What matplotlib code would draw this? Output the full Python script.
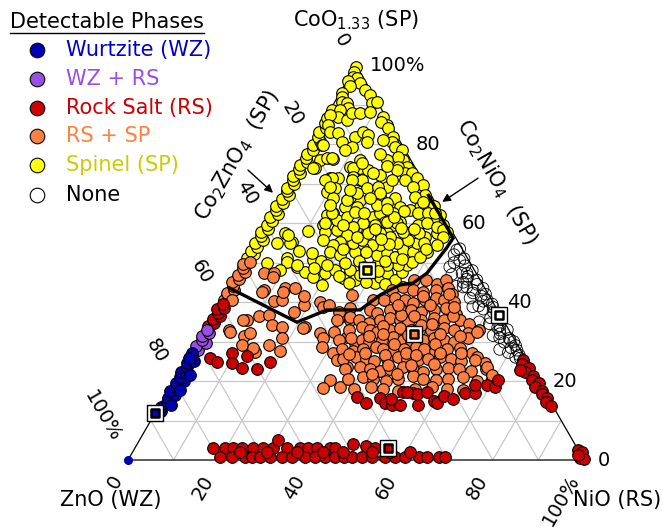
import numpy as np
import matplotlib
matplotlib.use('Agg')
import matplotlib.pyplot as plt
from matplotlib.lines import Line2D

# compositions as (NiO %, CoO %); ZnO = 100 - NiO - CoO
wurtzite = [(1.0, 12.5), (0.5, 13.5), (1.5, 14.5), (0.8, 15.8), (2.0, 16.5), (0.5, 17.5),
            (1.6, 18.3), (0.8, 19.5), (2.2, 20.0), (1.0, 21.0), (0.5, 22.3), (1.8, 22.0),
            (1.2, 23.5), (0.6, 24.6), (2.0, 25.0), (1.0, 26.0), (0.5, 27.0), (2.6, 17.8),
            (2.8, 21.5), (2.4, 14.0), (0.4, 25.8)]
wz_rs = [(1.5, 27.8), (0.6, 28.8), (2.2, 29.6), (1.0, 30.5), (0.4, 31.5), (1.6, 32.2), (0.8, 33.0)]

rock_salt = [
    # left edge
    (0.5, 34.0), (1.5, 34.8), (0.8, 35.8), (2.0, 36.4), (1.0, 37.3), (0.4, 38.2), (1.8, 38.6), (1.0, 39.5),
    # low-Ni interior
    (5.1, 25.8), (7.1, 24.8), (9.3, 27.1), (10.5, 24.6), (13.4, 23.3), (12.9, 26.3), (16.8, 23.0), (18.7, 24.8),
    # under the RS+SP cloud
    (42.2, 16.0), (47.4, 15.7), (49.2, 14.4), (50.9, 13.9), (52.6, 13.9), (51.8, 17.2), (54.0, 17.0),
    (55.0, 16.7), (57.0, 17.2), (59.7, 14.9), (60.6, 14.4), (61.2, 16.2), (65.4, 17.0), (67.6, 17.0),
    (66.6, 19.0), (69.2, 19.0), (71.3, 18.5), (71.0, 20.3), (49.9, 15.4), (52.5, 17.2), (45.0, 14.5),
    (56.5, 14.0), (63.5, 15.5),
    # right edge
    (73.9, 25.3), (74.3, 24.2), (76.3, 23.4), (75.9, 22.2), (78.2, 21.2), (78.6, 20.2), (80.4, 19.4),
    (80.0, 18.4), (81.9, 17.6), (82.4, 16.6), (84.0, 15.8), (84.3, 14.8), (85.9, 13.8), (74.6, 22.8),
    # NiO corner
    (97.4, 2.5), (98.6, 2.0), (98.9, 0.5), (99.8, 0.2), (98.0, 1.2),
    # low-Co line
    (17.1, 3.0), (19.8, 3.0), (21.5, 3.0), (23.5, 3.0), (26.0, 3.0), (28.0, 3.0), (30.3, 3.0), (30.4, 5.0),
    (33.4, 3.0), (36.2, 3.0), (38.0, 3.0), (40.0, 3.0), (42.8, 3.0), (43.9, 3.0), (47.3, 4.0), (50.5, 3.5),
    (52.7, 3.0), (19.7, 0.8), (22.4, 0.8), (25.2, 0.8), (26.8, 0.8), (28.5, 0.8), (30.7, 0.8), (33.3, 0.8),
    (35.5, 0.8), (38.4, 0.8), (40.6, 0.8), (42.8, 0.8), (45.0, 0.8), (46.9, 0.8), (48.7, 0.8), (50.9, 0.8),
    (53.1, 0.8), (55.9, 0.8), (58.1, 0.8), (60.3, 0.8), (63.4, 0.8), (65.1, 0.8), (67.8, 0.8), (69.1, 0.8),
    (23.6, 2.0), (29.5, 2.0), (36.1, 2.0), (41.8, 2.0), (46.1, 2.0), (52.5, 2.0), (56.5, 2.0), (60.8, 2.0)]

rs_sp = [
    # left edge
    (0.8, 40.4), (1.5, 41.4), (0.5, 42.3), (1.8, 43.0), (1.0, 44.0), (0.4, 45.0), (1.5, 45.8), (0.8, 46.8),
    (2.0, 47.5), (1.0, 48.5), (0.5, 49.6), (1.6, 50.2),
    # low-Ni interior
    (2.6, 40.5), (8.3, 35.4), (10.5, 36.4), (12.6, 36.7), (14.5, 34.1), (16.9, 33.8), (5.8, 32.8), (9.7, 31.3),
    (10.7, 32.1), (10.4, 29.0), (14.1, 27.4), (16.4, 29.0), (19.5, 27.7), (18.4, 30.8), (8.3, 43.1),
    (11.9, 40.3), (13.5, 40.5), (12.6, 43.6), (14.9, 43.6), (17.7, 37.4), (19.1, 39.2), (17.9, 41.5),
    (22.0, 33.8), (6.1, 47.4), (8.3, 47.4), (22.0, 40.0), (23.4, 38.7), (21.7, 33.4), (8.6, 46.3),
    (8.1, 42.5), (12.7, 42.5), (7.5, 35.4), (6.2, 32.4), (13.2, 28.4), (28.2, 41.8), (24.5, 39.3),
    (26.0, 32.2), (27.4, 30.9), (28.2, 28.6), (31.5, 27.1), (33.1, 25.3), (36.2, 23.5), (34.2, 20.3),
    (37.3, 18.5), (33.7, 18.2), (28.4, 36.2), (31.0, 35.4), (32.4, 31.1), (35.0, 29.6),
    # main cloud
    (40.0, 45.5), (42.5, 45.5), (45.5, 44.5), (47.0, 45.5),
    (36.5, 43.0), (38.5, 43.8), (41.0, 43.0), (43.5, 42.5), (46.0, 43.0), (48.5, 43.5), (50.0, 42.0),
    (33.5, 40.5), (35.8, 40.5), (38.0, 41.0), (40.5, 40.5), (42.5, 39.8), (44.8, 40.5), (47.0, 41.0),
    (49.0, 40.5), (51.5, 40.0),
    (27.5, 37.5), (29.5, 38.5), (34.0, 38.0), (36.0, 37.2), (38.5, 38.0), (40.5, 38.5), (43.0, 38.0),
    (45.5, 37.5), (48.0, 38.0), (50.5, 38.5), (53.5, 37.0),
    (28.0, 35.5), (30.5, 36.2), (33.0, 35.5), (35.5, 34.8), (37.5, 35.5), (39.5, 36.0), (42.0, 35.5),
    (44.0, 35.0), (46.5, 35.5), (49.0, 36.0), (51.5, 35.5), (55.0, 35.5), (57.5, 34.5),
    (29.0, 32.5), (32.0, 33.0), (34.5, 33.8), (36.5, 33.0), (38.5, 32.4), (41.0, 33.0), (43.0, 33.5),
    (45.5, 33.0), (47.5, 32.6), (50.0, 33.0), (52.5, 33.5), (55.0, 33.0), (58.5, 32.2), (60.5, 33.0),
    (31.0, 30.5), (33.5, 31.0), (36.0, 30.5), (38.0, 29.8), (40.5, 30.5), (42.5, 31.2), (45.0, 30.5),
    (47.0, 30.0), (49.5, 30.5), (51.5, 31.0), (54.0, 30.5), (56.5, 29.8), (59.0, 31.0),
    (33.0, 28.0), (35.5, 27.5), (37.5, 28.0), (40.0, 28.6), (42.0, 28.0), (44.5, 27.4), (46.5, 28.0),
    (49.0, 28.5), (51.0, 28.0), (53.5, 27.6), (56.0, 28.0), (58.5, 28.4), (62.0, 27.0),
    (34.5, 25.5), (37.0, 26.2), (39.5, 25.5), (41.5, 25.0), (44.0, 25.5), (46.0, 26.2), (48.5, 25.5),
    (51.0, 25.2), (53.0, 25.5), (55.5, 26.0), (58.0, 25.5), (60.5, 25.0), (63.5, 26.0), (66.0, 24.5),
    (36.0, 23.0), (39.0, 23.6), (41.5, 23.0), (44.0, 22.5), (46.0, 23.0), (48.5, 23.5), (51.0, 23.0),
    (53.5, 22.4), (56.0, 23.0), (58.5, 23.2), (61.0, 23.0), (64.0, 22.5), (67.0, 23.0),
    (38.0, 20.5), (41.0, 21.0), (43.5, 20.5), (46.5, 20.0), (49.0, 20.5), (52.0, 21.2), (54.5, 20.5),
    (57.5, 20.2), (60.0, 20.5), (63.0, 21.0), (66.5, 20.0), (69.5, 20.5),
    (40.5, 18.0), (44.0, 18.6), (47.0, 18.0), (50.5, 17.6), (54.0, 18.0), (57.5, 18.4), (61.0, 18.0),
    (64.5, 17.8), (60.3, 32.4), (63.4, 25.3), (67.0, 23.5), (69.0, 21.5),
    (39.0, 34.0), (41.5, 36.8), (44.5, 36.5), (47.0, 34.3), (49.5, 34.5), (52.5, 32.0), (53.0, 36.5),
    (45.5, 31.7), (43.5, 29.5), (40.0, 31.8), (37.0, 31.5), (35.0, 26.8), (38.5, 27.0), (43.0, 26.5),
    (47.5, 27.0), (50.0, 26.5), (52.5, 29.5), (55.0, 27.0), (57.0, 31.5), (48.0, 21.8), (45.0, 24.0),
    (42.5, 21.8), (50.0, 24.0), (55.0, 24.2), (59.5, 27.0), (39.5, 39.3), (44.0, 41.5), (46.5, 39.3),
    (49.5, 42.0), (52.0, 38.8)]

spinel = [
    # left edge
    (0.6, 51.2), (1.5, 52.1), (0.5, 53.0), (1.2, 54.0), (0.4, 55.0), (1.6, 55.8), (0.8, 56.8), (0.3, 57.8),
    (1.4, 58.6), (0.6, 59.6), (1.2, 60.6), (0.4, 61.6), (1.6, 62.4), (0.8, 63.4), (0.3, 64.4), (1.3, 65.2),
    (0.6, 66.2), (1.8, 67.0), (0.8, 68.0), (0.4, 69.0), (1.4, 69.8), (0.7, 70.8), (0.3, 71.8), (1.5, 72.6),
    (0.8, 73.6), (0.4, 74.6), (1.6, 75.4), (0.8, 76.4), (0.4, 77.6), (1.2, 78.6), (0.6, 79.8), (1.8, 80.8),
    (0.8, 81.8), (0.4, 83.0), (1.4, 84.0), (0.6, 85.3), (0.3, 86.5), (1.2, 87.6), (0.5, 88.6),
    # CoO corner and upper region
    (0.3, 99.5), (0.5, 98.2), (0.8, 97.0), (1.8, 96.7), (0.3, 96.0), (3.2, 95.4), (1.2, 94.8), (5.2, 93.7),
    (6.9, 92.4), (8.3, 90.4), (9.2, 90.6), (0.5, 93.0), (1.0, 91.9), (1.7, 90.6), (2.9, 90.4), (3.7, 89.1),
    (2.2, 88.6), (2.7, 86.8), (5.0, 86.1), (5.2, 87.8), (7.0, 87.8), (0.6, 87.3), (1.5, 84.8), (2.8, 83.0),
    (4.7, 82.8), (6.6, 80.5), (8.9, 81.8), (10.0, 83.0), (11.5, 82.3), (12.1, 80.5), (2.6, 79.7), (9.5, 79.2),
    (8.4, 78.5), (4.1, 76.0), (5.4, 76.5), (6.8, 76.3), (12.9, 76.0), (11.6, 74.2), (13.9, 73.9), (15.9, 73.4),
    (19.2, 72.2), (8.6, 71.4), (10.4, 71.4), (15.5, 70.9), (22.2, 69.1), (9.0, 88.1),
    # right edge
    (12.5, 86.8), (14.4, 84.8), (12.6, 85.6), (15.0, 84.0), (17.2, 81.8), (17.6, 80.5), (15.4, 81.0),
    (19.0, 79.2), (20.8, 78.5), (22.3, 76.0), (20.8, 76.7), (18.8, 76.0), (24.1, 74.2), (22.1, 74.2),
    (24.4, 72.7), (22.3, 73.4), (26.0, 72.7), (27.7, 71.4), (25.3, 70.9), (29.9, 69.6), (27.9, 69.1),
    (31.6, 67.1), (29.6, 66.6), (32.0, 64.0), (33.8, 64.0), (35.0, 64.4), (37.4, 62.0), (36.5, 60.8),
    (39.4, 59.5), (41.1, 57.7), (33.9, 59.5), (36.9, 56.5), (39.0, 57.5), (25.4, 66.3), (27.6, 64.0),
    (30.2, 63.3), (32.0, 65.3), (32.3, 62.5), (34.5, 62.5), (35.6, 60.0), (38.3, 59.0), (40.0, 58.2),
    (40.9, 56.5), (40.6, 54.4), (39.3, 52.7),
    # central cloud
    (4.0, 73.9), (9.0, 71.4), (11.0, 68.9), (7.8, 70.9), (9.7, 67.8), (11.8, 66.3), (12.3, 73.9),
    (13.7, 75.2), (13.5, 71.6), (15.9, 70.9), (17.4, 72.7), (18.0, 68.9), (20.2, 69.1), (22.0, 66.6),
    (18.0, 65.8), (15.4, 66.6), (18.2, 64.0), (15.6, 64.0), (13.7, 62.5), (16.0, 60.3), (12.6, 62.0),
    (13.1, 59.5), (22.9, 61.5), (24.0, 62.5), (26.3, 60.3), (26.8, 62.5), (28.4, 59.5), (29.5, 60.3),
    (31.8, 57.7), (28.1, 57.5), (23.5, 57.7), (19.9, 58.7), (19.1, 57.7), (16.7, 58.2), (14.3, 57.7),
    (5.7, 57.5), (8.4, 55.2), (9.3, 51.1), (12.6, 48.9), (15.0, 47.6), (15.3, 50.6), (17.4, 46.3),
    (19.5, 47.3), (20.3, 44.3), (21.3, 48.1), (24.1, 46.1), (24.6, 48.1), (27.0, 45.6), (27.5, 46.8),
    (31.8, 44.8), (32.1, 46.3), (33.1, 47.3), (35.8, 45.6), (36.3, 47.6), (36.5, 49.4), (34.5, 49.4),
    (32.1, 49.4), (29.9, 49.9), (28.7, 51.9), (30.6, 52.4), (32.9, 51.4), (33.7, 53.2), (36.2, 52.7),
    (37.3, 50.1), (38.3, 51.4), (35.9, 54.9), (33.6, 55.7), (31.5, 54.9), (29.3, 56.5), (31.4, 57.7),
    (29.0, 60.0), (28.1, 54.4), (26.3, 54.4), (24.7, 53.7), (23.5, 52.7), (21.8, 54.9), (23.5, 55.7),
    (23.9, 57.5), (26.6, 57.5), (24.5, 59.5), (21.5, 60.0), (19.8, 59.0), (19.5, 57.0), (18.9, 55.2),
    (17.8, 54.4), (18.0, 52.7), (20.6, 51.9), (22.7, 49.9), (15.0, 55.7), (13.2, 60.0), (15.4, 60.8),
    (13.4, 62.5), (17.2, 61.5), (18.4, 62.8), (15.1, 65.8), (16.4, 67.6), (21.5, 67.6), (22.3, 64.6),
    (24.3, 65.1), (26.7, 60.3), (19.9, 66.3), (9.7, 69.1), (13.7, 70.9), (5.2, 54.9), (8.0, 54.9),
    (9.9, 50.1), (12.4, 49.4), (9.3, 48.1), (6.6, 57.0), (3.6, 73.9), (5.6, 49.9), (2.9, 79.7),
    (6.5, 76.5),
    (25.5, 50.5), (27.2, 49.0), (30.8, 47.9), (34.0, 44.6), (26.0, 52.6), (30.0, 54.6), (27.5, 56.0),
    (25.0, 58.5), (22.0, 56.5), (20.5, 53.5), (17.0, 50.5), (19.0, 49.3), (14.0, 52.5), (11.0, 53.0),
    (16.5, 48.5), (30.5, 58.8), (27.5, 61.5), (25.0, 63.6), (20.5, 62.5), (17.5, 59.5), (35.0, 57.5),
    (37.5, 55.0), (38.5, 53.5), (34.5, 51.0), (31.0, 50.5), (23.0, 46.5), (26.0, 44.8), (29.5, 45.2),
    (33.5, 58.5), (36.0, 62.5), (29.0, 63.0), (22.5, 71.0), (19.5, 74.5), (16.5, 77.5), (14.5, 68.5),
    (12.0, 64.5), (10.5, 58.0)]

no_phase = [(45.5, 53.2), (50.7, 47.3), (51.6, 43.8), (54.5, 42.3), (60.7, 38.7), (65.1, 32.9), (68.6, 30.4),
            (71.4, 27.8), (73.1, 25.8), (46.1, 48.9), (49.6, 47.3), (52.4, 43.8), (53.7, 45.6), (58.5, 40.5),
            (45.5, 52.0), (48.2, 51.0), (46.5, 50.0), (49.3, 49.2), (51.5, 48.0), (51.3, 46.5), (51.0, 45.0),
            (54.3, 44.5), (54.2, 43.0), (57.4, 42.0), (54.5, 41.0), (57.8, 40.2), (60.1, 39.5), (58.8, 38.2),
            (61.3, 37.5), (61.5, 36.0), (64.0, 35.5), (62.0, 34.5), (64.5, 34.0), (66.7, 33.0), (65.6, 32.0),
            (64.3, 31.5), (68.2, 30.8), (67.6, 29.8), (70.5, 29.0), (69.8, 28.4), (69.8, 27.2), (72.5, 26.6),
            (59.5, 35.0), (56.2, 38.8), (50.0, 44.0), (47.5, 47.0), (46.0, 53.5), (47.5, 50.5), (51.4, 45.8),
            (56.1, 43.5), (56.7, 41.5), (57.4, 39.0), (62.4, 37.0), (64.3, 33.5), (66.0, 31.0), (69.6, 30.0),
            (67.5, 28.0), (72.0, 26.0), (74.2, 25.0)]

# highlighted samples
square_ni = [0.0, 28.4, 46.8, 63.0, 55.5]
square_co = [12.0, 48.1, 31.9, 36.8, 3.0]
square_col = ['#0000cc', '#ffff00', '#ff8040', 'white', '#cc0000']

# RS+SP / SP boundary
bound_ni = [0.6, 19.6, 24.6, 31.9, 34.4, 37.4, 40.1, 41.9, 43.0, 43.2, 32.4]
bound_co = [43.5, 34.9, 38.0, 38.0, 41.8, 44.3, 44.8, 47.3, 53.6, 56.2, 67.0]

phase_names = ['Wurtzite (WZ)', 'WZ + RS', 'Rock Salt (RS)', 'RS + SP', 'Spinel (SP)', 'None']
marker_cols = ['#0000b4', '#9b4ee6', '#cc0000', '#ff8040', '#ffff00', 'white']
text_cols = ['#0000cc', '#9b4ee6', '#cc0000', '#ff8040', '#cccc00', 'black']

h = np.sqrt(3) / 2


def tern(ni, co):
    ni = np.asarray(ni, dtype=float)
    co = np.asarray(co, dtype=float)
    return ni + co / 2, co * h


def pts(pairs):
    a = np.array(pairs)
    return tern(a[:, 0], a[:, 1])


fig = plt.figure(figsize=(6.63, 5.28), dpi=100)
ax = fig.add_axes([0, 0, 1, 1])
ax.set_xlim(-28.07, 117.32)
ax.set_ylim(-14.91, 100.88)
ax.axis('off')

# grid
gc = '#c8c8c8'
for k in range(10, 100, 10):
    for p, q in [((0, k), (100 - k, k)), ((k, 0), (k, 100 - k)), ((100 - k, 0), (0, 100 - k))]:
        x, y = tern([p[0], q[0]], [p[1], q[1]])
        ax.plot(x, y, color=gc, lw=0.9, zorder=1)

x, y = tern([0, 100, 0, 0], [0, 0, 100, 0])
ax.plot(x, y, color='black', lw=0.9, zorder=2)

ms = 70
ew = 0.8
x, y = pts(no_phase)
ax.scatter(x, y, s=ms, facecolors='none', edgecolors='black', linewidths=0.6, zorder=3)
for data, col in [(spinel, marker_cols[4]), (rs_sp, marker_cols[3]), (rock_salt, marker_cols[2]),
                  (wz_rs, marker_cols[1]), (wurtzite, marker_cols[0])]:
    x, y = pts(data)
    ax.scatter(x, y, s=ms, c=col, edgecolors='black', linewidths=ew, zorder=3)
ax.scatter([0], [0], s=30, c='#0000b4', zorder=3)

x, y = tern(bound_ni, bound_co)
ax.plot(x, y, color='black', lw=2.4, zorder=4, solid_joinstyle='miter')

x, y = tern(square_ni, square_co)
ax.scatter(x, y, marker='s', s=125, c='white', edgecolors='black', linewidths=1.0, zorder=5)
ax.scatter(x, y, marker='s', s=32, c=square_col, edgecolors='black', linewidths=1.8, zorder=6)

# tick labels
fs = 15
tfs = 14
off = 5.0
boff = 4.2
for v in range(0, 101, 20):
    lab = '100%' if v == 100 else str(v)
    # ZnO (left)
    X, Y = tern(0, 100 - v)
    ax.text(X - 0.5 * off, Y + h * off, lab, rotation=-60, rotation_mode='anchor',
            ha='right', va='center', fontsize=tfs)
    # NiO (bottom)
    X, Y = tern(v, 0)
    ax.text(X - 0.5 * boff, Y - h * boff, lab, rotation=60, rotation_mode='anchor',
            ha='right', va='center', fontsize=tfs)
    # CoO (right)
    X, Y = tern(100 - v, v)
    ax.text(X + 3.1, Y, lab, ha='left', va='center', fontsize=tfs)

ax.text(50.0, 96.5, 'CoO$_{1.33}$ (SP)', ha='center', va='center', fontsize=fs)
ax.text(-3.7, -8.8, 'ZnO (WZ)', ha='center', va='center', fontsize=fs)
ax.text(107.2, -8.8, 'NiO (RS)', ha='center', va='center', fontsize=fs)
ax.text(24.1, 66.9, 'Co$_2$ZnO$_4$  (SP)', rotation=60, ha='center', va='center', fontsize=fs)
ax.text(80.9, 61.0, 'Co$_2$NiO$_4$  (SP)', rotation=-60, ha='center', va='center', fontsize=fs)

arw = dict(arrowstyle='-|>', color='black', lw=1.0, mutation_scale=12, shrinkA=0, shrinkB=0)
ax.annotate('', xy=(31.8, 58.6), xytext=(26.3, 63.6), arrowprops=arw)
ax.annotate('', xy=(68.9, 56.6), xytext=(76.75, 61.8), arrowprops=arw)

# legend
W, H = 663, 528
fig.text(10 / W, 1 - 22 / H, 'Detectable Phases', ha='left', va='center', fontsize=fs)
fig.add_artist(Line2D([10 / W, 204 / W], [1 - 33 / H, 1 - 33 / H], color='black', lw=1.0))
rows = [50, 79, 108, 136, 165, 195]
for yy, name, mc, tc in zip(rows, phase_names, marker_cols, text_cols):
    fig.add_artist(Line2D([37 / W], [1 - yy / H], marker='o', markersize=10.5, color=mc,
                          markeredgecolor='black', markeredgewidth=ew, linestyle='none'))
    fig.text(66 / W, 1 - yy / H, name, ha='left', va='center', fontsize=fs, color=tc)

fig.savefig('out.png', dpi=100)
